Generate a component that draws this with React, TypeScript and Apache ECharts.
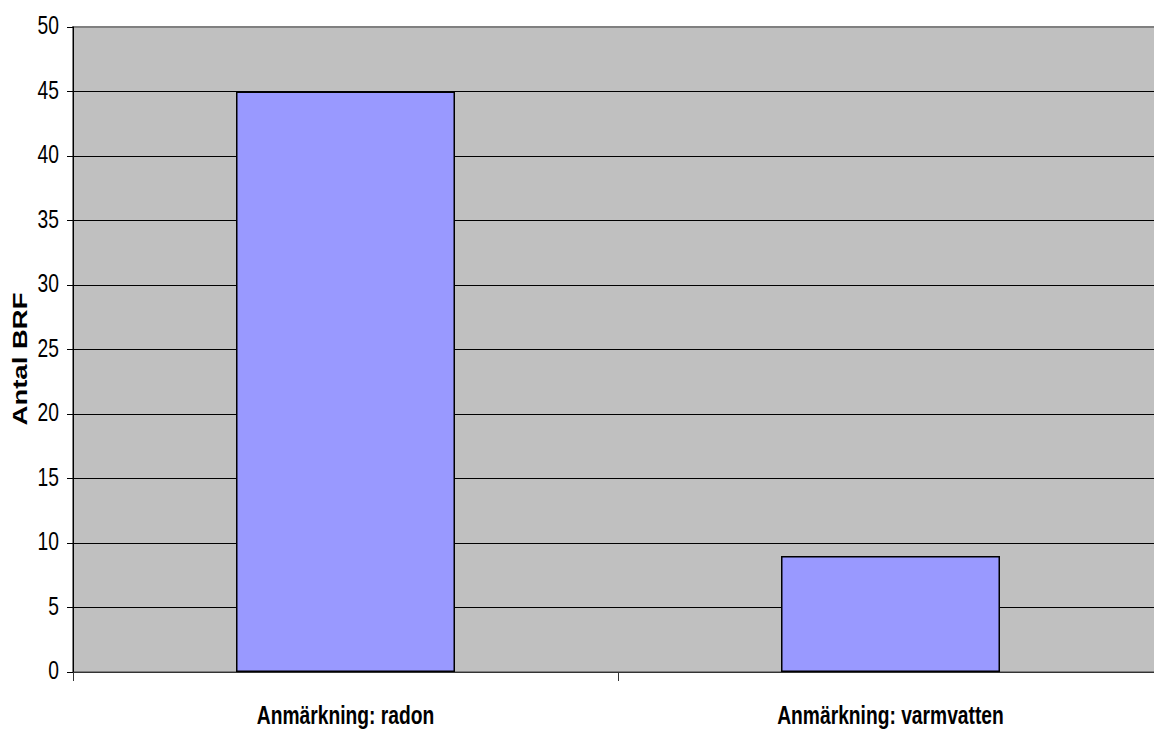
import React, { useEffect, useRef } from "react";
import * as echarts from "echarts";

const categories = ["Anmärkning: radon", "Anmärkning: varmvatten"];
const values = [45, 9];
const yTickValues = [0, 5, 10, 15, 20, 25, 30, 35, 40, 45, 50];
const yName = "Antal BRF";

export default function App() {
  const ref = useRef<HTMLDivElement>(null);
  useEffect(() => {
    document.body.style.margin = "0";
    const chart = echarts.init(ref.current!, undefined, { renderer: "svg" });
    const font = "'Liberation Sans', Arial, sans-serif";
    const squeeze = 0.74;
    const splitColors = yTickValues.map((v, i) => (i === yTickValues.length - 1 ? "#808080" : "#000000"));
    chart.setOption({
      animation: false,
      backgroundColor: "#ffffff",
      grid: {
        left: 73,
        top: 27,
        width: 1090,
        height: 645,
        outerBoundsMode: "none",
        containLabel: false,
        show: true,
        backgroundColor: "#C0C0C0",
        borderColor: "#808080",
        borderWidth: 2,
      },
      xAxis: {
        type: "category",
        data: categories,
        axisLine: { show: true, lineStyle: { color: "#333", width: 1 } },
        axisTick: { show: true, length: 9, lineStyle: { color: "#333" } },
        axisLabel: { show: false },
        splitLine: { show: false },
      },
      yAxis: {
        type: "value",
        min: yTickValues[0],
        max: yTickValues[yTickValues.length - 1],
        interval: yTickValues[1] - yTickValues[0],
        axisLine: { show: true, lineStyle: { color: "#000", width: 1 } },
        axisTick: { show: true, length: 6, lineStyle: { color: "#000" } },
        axisLabel: { show: false },
        splitLine: { show: true, lineStyle: { color: splitColors, width: 1 } },
      },
      series: [
        {
          type: "bar",
          data: values,
          barWidth: 219,
          itemStyle: { color: "#9999FF", borderColor: "#000", borderWidth: 1.5 },
        },
      ],
    });

    const graphics: any[] = [];
    yTickValues.forEach((v) => {
      const y = chart.convertToPixel({ yAxisIndex: 0 }, v) as number;
      graphics.push({
        type: "text",
        x: 59,
        y: y - 2,
        scaleX: squeeze,
        style: {
          text: String(v),
          align: "right",
          verticalAlign: "middle",
          fill: "#000",
          font: `26px ${font}`,
        },
      });
    });
    categories.forEach((c, i) => {
      const x = chart.convertToPixel({ xAxisIndex: 0 }, i) as number;
      graphics.push({
        type: "text",
        x,
        y: 715,
        scaleX: squeeze,
        style: {
          text: c,
          align: "center",
          verticalAlign: "middle",
          fill: "#000",
          font: `bold 26px ${font}`,
        },
      });
    });
    graphics.push({
      type: "text",
      x: 20,
      y: 359,
      rotation: Math.PI / 2,
      scaleX: 1.1,
      scaleY: 0.82,
      style: {
        text: yName,
        align: "center",
        verticalAlign: "middle",
        fill: "#000",
        font: `bold 25px ${font}`,
      },
    });
    chart.setOption({ graphic: graphics });
    return () => chart.dispose();
  }, []);
  return <div ref={ref} style={{ width: 1154, height: 729 }} />;
}
